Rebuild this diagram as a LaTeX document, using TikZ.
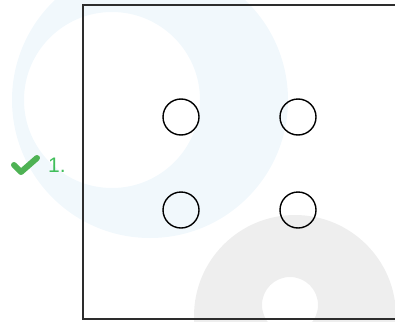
\documentclass[tikz,border=0pt]{standalone}
\usepackage{fontspec}
\setmainfont{Liberation Sans}
\definecolor{mWaterBlue}{RGB}{241,248,252}
\definecolor{mWaterGrey}{RGB}{238,238,238}
\definecolor{mCheck}{RGB}{78,178,84}
\definecolor{mLabel}{RGB}{64,190,90}
\definecolor{mFrame}{RGB}{45,45,45}
\usetikzlibrary{positioning}

\begin{document}
\begin{tikzpicture}[x=1pt, y=-1pt,
    hole/.style={circle, draw=black, line width=1.4pt, minimum size=36pt, inner sep=0pt}]
    \useasboundingbox (0,0) rectangle (395,321);

    % faint watermark rings behind everything
    \fill[mWaterBlue, even odd rule] (150,100) circle (138) (112,100) circle (88);
    \fill[mWaterGrey, even odd rule] (295,316) circle (101) (290,305) circle (28);

    % frame, open on the right
    \draw[mFrame, line width=2.4pt] (395,5) -- (83,5) -- (83,319) -- (395,319);

    % the four holes
    \node[hole] (h1) at (181,117) {};
    \node[hole] (h2) at (298,117) {};
    \node[hole] (h3) at (181,210) {};
    \node[hole] (h4) at (298,210) {};

    % answer mark and number
    \draw[mCheck, line width=6pt, line cap=round, line join=round]
      (14,165) -- (21,172) -- (37,158);
    \node[mLabel, font=\fontsize{21}{21}\selectfont, anchor=base west, inner sep=0pt] (num) at (48,172) {1.};
\end{tikzpicture}
\end{document}
